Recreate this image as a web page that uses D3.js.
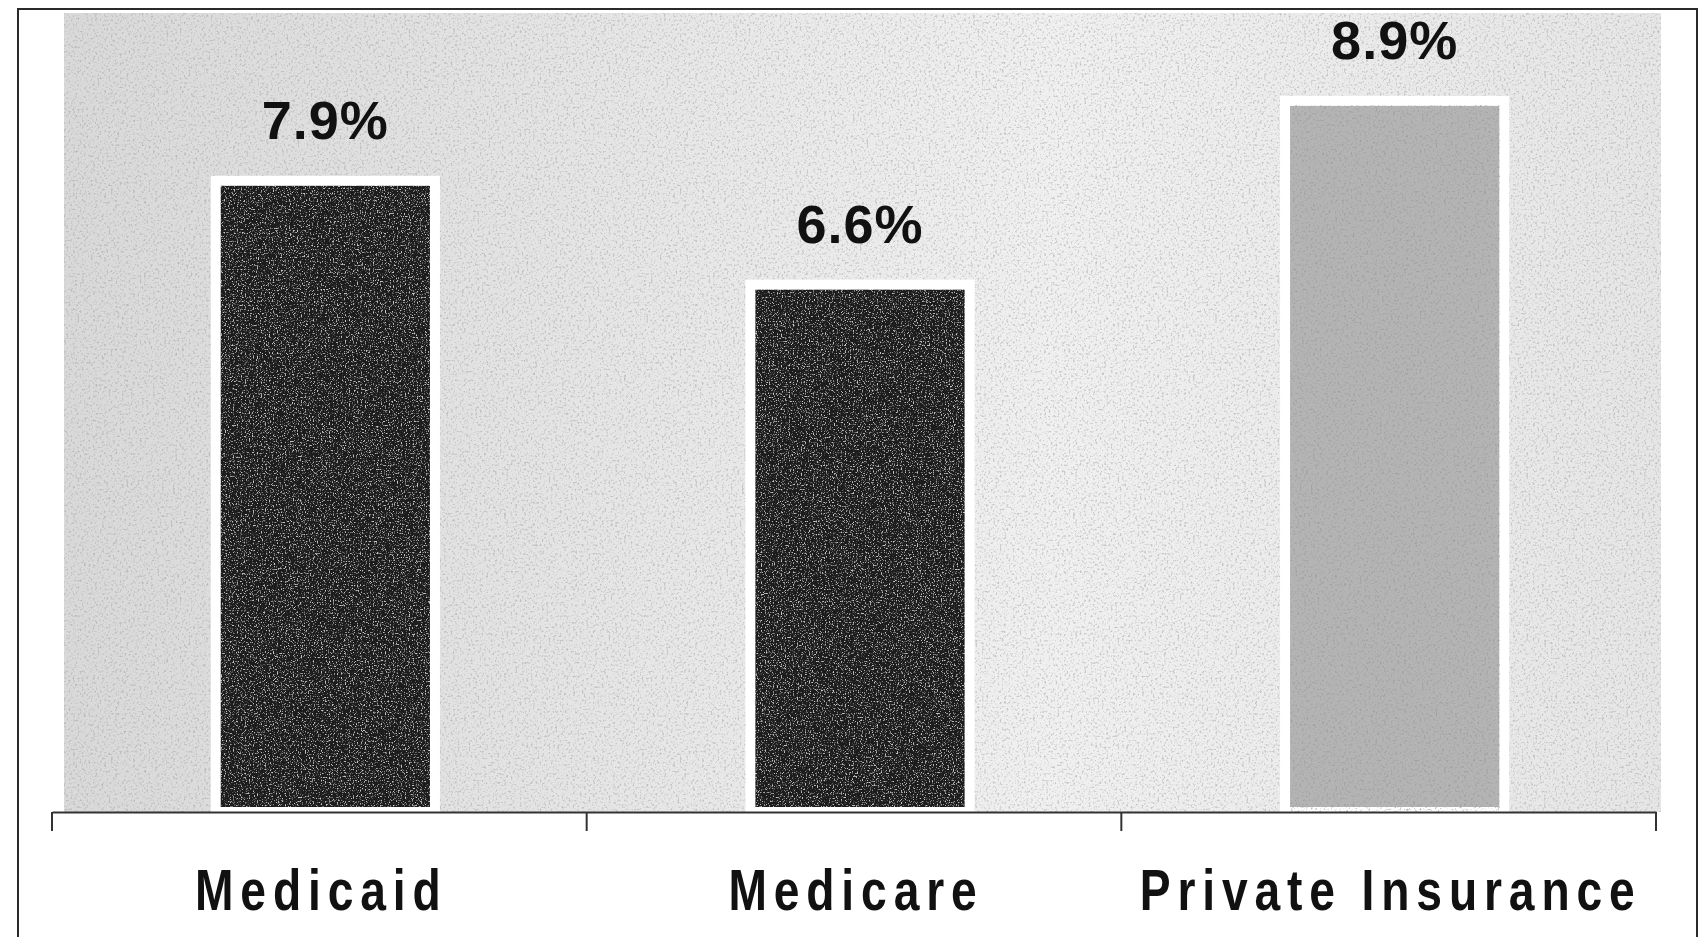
<!DOCTYPE html>
<html>
<head>
<meta charset="utf-8">
<script src="https://cdn.jsdelivr.net/npm/d3@7/dist/d3.min.js"></script>
<style>
  html, body { margin: 0; padding: 0; background: #ffffff; }
  svg { display: block; }
</style>
</head>
<body>
<svg id="chart" width="1702" height="937"></svg>
<script>
// ---- data ----
const categories = ["Medicaid", "Medicare", "Private Insurance"];
const values = [7.9, 6.6, 8.9];
const barColors = ["#1c1c1c", "#1c1c1c", "#b4b4b4"];
const yDomain = [0, 10];

// ---- layout ----
const W = 1702, H = 937;
const svg = d3.select("#chart");
const plot = { left: 52, right: 1656, top: 13, bottom: 812 };

const defs = svg.append("defs");
// light speckle (white) for dark bars
const fW = defs.append("filter").attr("id", "specW")
  .attr("x", 0).attr("y", 0).attr("width", 1).attr("height", 1);
fW.append("feTurbulence").attr("type", "fractalNoise").attr("baseFrequency", 0.75)
  .attr("numOctaves", 2).attr("seed", 4);
fW.append("feColorMatrix").attr("type", "matrix")
  .attr("values", "0 0 0 0 1  0 0 0 0 1  0 0 0 0 1  5 0 0 0 -2.7");
// dark speckle for grey areas
const fD = defs.append("filter").attr("id", "specD")
  .attr("x", 0).attr("y", 0).attr("width", 1).attr("height", 1);
fD.append("feTurbulence").attr("type", "fractalNoise").attr("baseFrequency", 0.45)
  .attr("numOctaves", 2).attr("seed", 9);
fD.append("feColorMatrix").attr("type", "matrix")
  .attr("values", "0 0 0 0 0.3  0 0 0 0 0.3  0 0 0 0 0.3  4 0 0 0 -2.1");

// background gradient of scanned panel
const bg = defs.append("linearGradient").attr("id", "bgGrad")
  .attr("x1", "0%").attr("x2", "100%").attr("y1", "0%").attr("y2", "0%");
bg.append("stop").attr("offset", "0%").attr("stop-color", "#d9d9d9");
bg.append("stop").attr("offset", "35%").attr("stop-color", "#e6e6e6");
bg.append("stop").attr("offset", "62%").attr("stop-color", "#f0f0f0");
bg.append("stop").attr("offset", "100%").attr("stop-color", "#e6e6e6");

// outer frame
svg.append("path")
  .attr("d", `M18,${H + 5} L18,9 L1697,9 L1697,${H + 5}`)
  .attr("fill", "none").attr("stroke", "#2a2a2a").attr("stroke-width", 2);

// scales
const x = d3.scaleBand().domain(categories)
  .range([plot.left, plot.right]).paddingInner(0.59).paddingOuter(0.295);
// bars sit slightly right of the axis bands in the scanned original
const xBar = x.copy().range([plot.left + 6, plot.right + 6]);
const y = d3.scaleLinear().domain(yDomain).range([plot.bottom, plot.top]);

// plot background
svg.append("rect").attr("x", 64).attr("y", y(yDomain[1]))
  .attr("width", 1661 - 64).attr("height", y(0) - y(yDomain[1]))
  .attr("fill", "url(#bgGrad)");
svg.append("rect").attr("x", 64).attr("y", y(yDomain[1]))
  .attr("width", 1661 - 64).attr("height", y(0) - y(yDomain[1]))
  .attr("filter", "url(#specD)").attr("opacity", 0.45);

// bars
const bars = svg.append("g");
bars.selectAll("rect.bar").data(values).join("rect")
  .attr("class", "bar")
  .attr("x", (d, i) => xBar(categories[i]))
  .attr("y", d => y(d))
  .attr("width", xBar.bandwidth())
  .attr("height", d => y(0) - y(d))
  .attr("fill", (d, i) => barColors[i])
  .attr("stroke", "#ffffff").attr("stroke-width", 10);
bars.selectAll("rect.spec").data(values).join("rect")
  .attr("class", "spec")
  .attr("x", (d, i) => xBar(categories[i]) + 5)
  .attr("y", d => y(d) + 5)
  .attr("width", xBar.bandwidth() - 10)
  .attr("height", d => y(0) - y(d) - 5)
  .attr("filter", (d, i) => barColors[i] === "#1c1c1c" ? "url(#specW)" : "url(#specD)")
  .attr("opacity", (d, i) => barColors[i] === "#1c1c1c" ? 0.75 : 0.6);

// value labels
svg.append("g").selectAll("text").data(values).join("text")
  .attr("x", (d, i) => xBar(categories[i]) + xBar.bandwidth() / 2)
  .attr("y", d => y(d) - 42)
  .attr("text-anchor", "middle")
  .attr("font-family", "'Liberation Sans', Arial, sans-serif")
  .attr("font-weight", "bold")
  .attr("font-size", 54)
  .attr("letter-spacing", 1)
  .attr("fill", "#111111")
  .text(d => d3.format(".1f")(d) + "%");

// x axis line with boundary ticks
const axis = svg.append("g").attr("transform", `translate(0,${y(0)})`);
axis.call(d3.axisBottom(x).tickSize(0).tickFormat("").tickSizeOuter(0));
axis.select(".domain").attr("stroke", "#333333").attr("stroke-width", 2);
const step = x.step();
const boundaries = d3.range(categories.length + 1)
  .map(i => plot.left + i * step);
axis.selectAll("line.bt").data(boundaries).join("line")
  .attr("class", "bt")
  .attr("x1", d => d).attr("x2", d => d)
  .attr("y1", 0).attr("y2", 19)
  .attr("stroke", "#333333").attr("stroke-width", 2);

// category labels (condensed bold, widely tracked)
svg.append("g").selectAll("text").data(categories).join("text")
  .attr("transform", d => `translate(${x(d) + x.bandwidth() / 2 + 2},910) scale(0.81,1)`)
  .attr("text-anchor", "middle")
  .attr("font-family", "'Liberation Sans', Arial, sans-serif")
  .attr("font-weight", "bold")
  .attr("font-size", 57)
  .attr("letter-spacing", 8.5)
  .attr("fill", "#111111")
  .text(d => d);
</script>
</body>
</html>
